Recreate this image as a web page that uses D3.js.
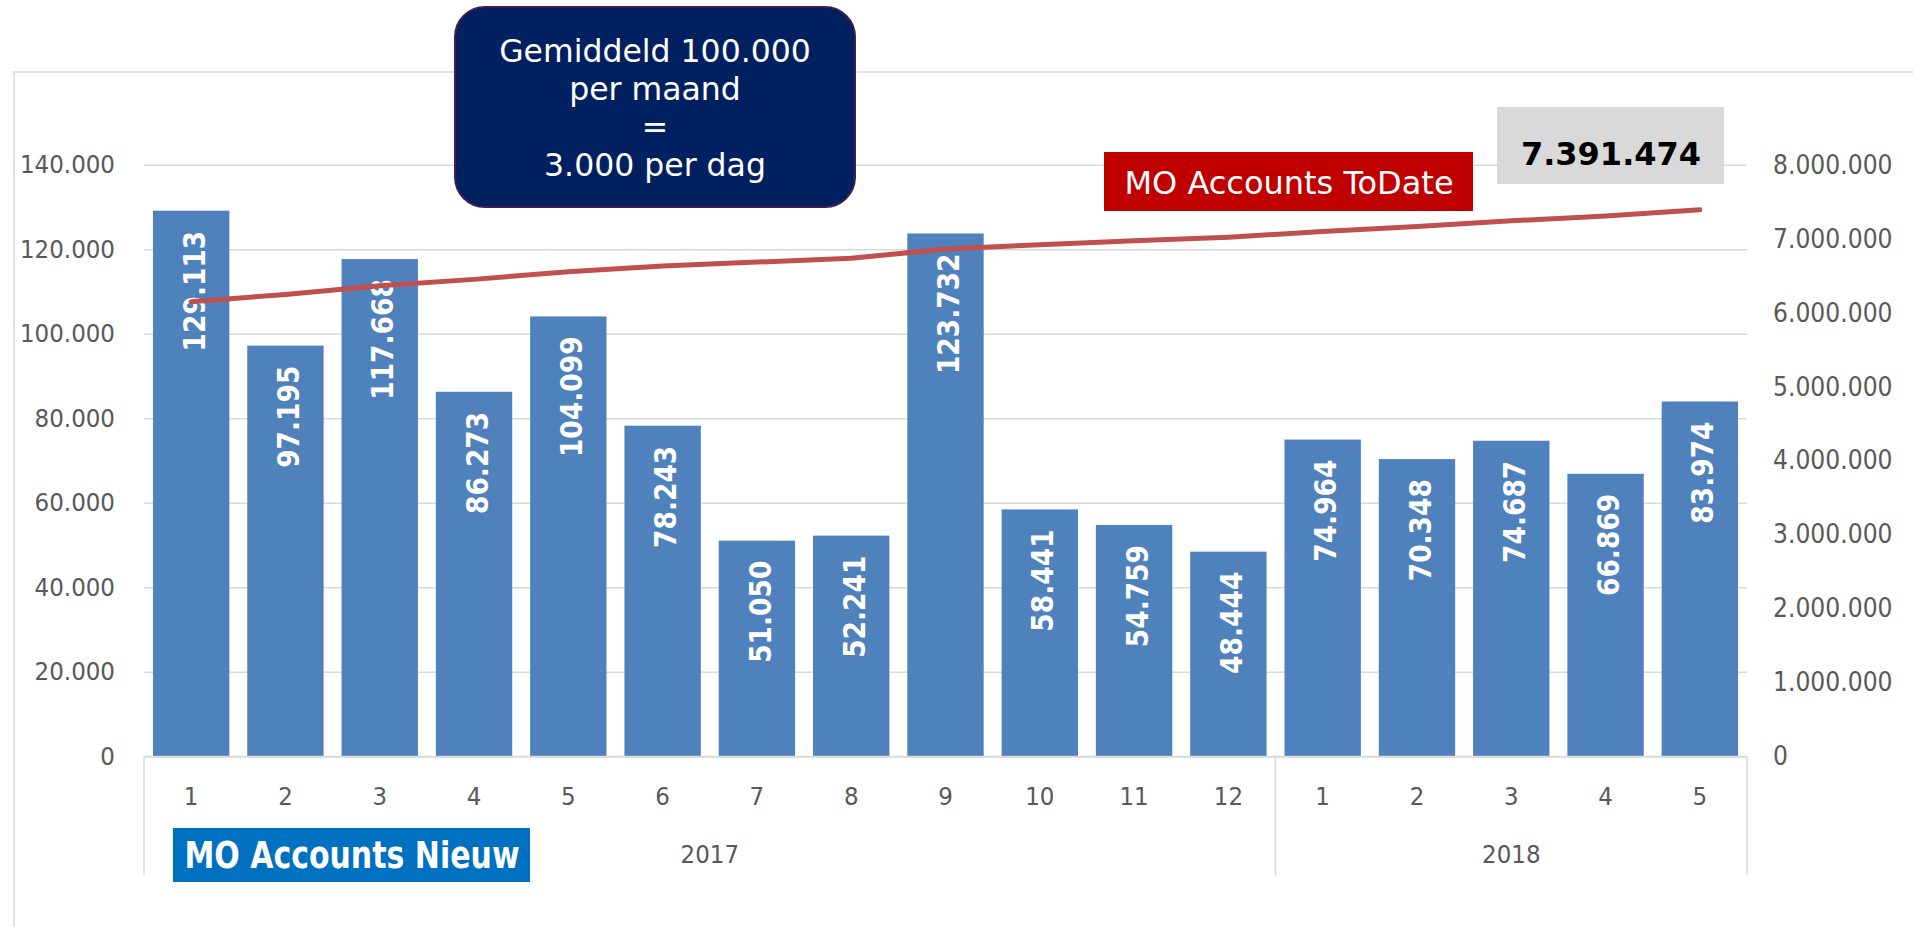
<!DOCTYPE html>
<html>
<head>
<meta charset="utf-8">
<script src="https://cdn.jsdelivr.net/npm/d3@7"></script>
<style>
  html, body { margin: 0; padding: 0; background: #fff; overflow: hidden; }
  svg { display: block; font-family: "DejaVu Sans", Verdana, sans-serif; }
</style>
</head>
<body>
<svg id="chart" width="1913" height="927"></svg>
<script>
// maanden per jaar
const months = ["1", "2", "3", "4", "5", "6", "7", "8", "9", "10", "11", "12", "1", "2", "3", "4", "5"];
const years = ["2017", "2018"];
const monthsPerYear = [12, 5];

// MO Accounts Nieuw (staven, linker as)
const newAccounts = [129113, 97195, 117668, 86273, 104099, 78243, 51050, 52241, 123732,
                     58441, 54759, 48444, 74964, 70348, 74687, 66869, 83974];

// MO Accounts ToDate (lijn, rechter as)
const accountsToDate = [6148487, 6245682, 6363350, 6449623, 6553722, 6631965, 6683015, 6735256,
                        6858988, 6917429, 6972188, 7020632, 7095596, 7165944, 7240631, 7307500, 7391474];

const leftTicks = [0, 20000, 40000, 60000, 80000, 100000, 120000, 140000];
const rightTicks = [0, 1000000, 2000000, 3000000, 4000000, 5000000, 6000000, 7000000, 8000000];

const noteLines = ["Gemiddeld 100.000", "per maand", "=", "3.000 per dag"];
const totalLabel = "7.391.474";
const lineLabel = "MO Accounts ToDate";
const barLabel = "MO Accounts Nieuw";

const W = 1913, H = 927;
const plotLeft = 144, plotRight = 1747, plotTop = 164.7, plotBottom = 756.4;
const grey = "#d9d9d9", txt = "#595959";

const nl = d3.formatLocale({decimal: ",", thousands: ".", grouping: [3], currency: ["€", ""]});
const fmt = nl.format(",d");

const svg = d3.select("#chart");

const x = d3.scaleBand()
    .domain(d3.range(newAccounts.length))
    .range([plotLeft, plotRight])
    .paddingInner(0.19)
    .paddingOuter(0.095);
const y = d3.scaleLinear([0, 140000], [plotBottom, plotTop]);
const y2 = d3.scaleLinear([0, 8000000], [plotBottom, plotTop]);
const cx = i => x(i) + x.bandwidth() / 2;

// kader van de grafiek
svg.append("path")
    .attr("d", `M14,${H}V72H${W}`)
    .attr("fill", "none")
    .attr("stroke", grey)
    .attr("stroke-width", 1.5);

// rasterlijnen
svg.append("g")
    .attr("transform", `translate(${plotLeft},0)`)
    .call(d3.axisLeft(y).tickValues(leftTicks).tickSize(-(plotRight - plotLeft)).tickFormat(""))
    .call(g => g.select(".domain").remove())
    .call(g => g.selectAll("line").attr("stroke", grey).attr("stroke-width", 1.5));

// linker as
svg.append("g")
    .attr("transform", `translate(${plotLeft},0)`)
    .call(d3.axisLeft(y).tickValues(leftTicks).tickSize(0).tickPadding(29).tickFormat(fmt))
    .call(g => g.select(".domain").remove())
    .call(g => g.selectAll("text")
        .attr("fill", txt)
        .style("font-size", "23px")
        .style("font-family", "DejaVu Sans")
        .attr("transform", "scale(1,1.1)"));

// rechter as
svg.append("g")
    .attr("transform", `translate(${plotRight},0)`)
    .call(d3.axisRight(y2).tickValues(rightTicks).tickSize(0).tickPadding(26).tickFormat(fmt))
    .call(g => g.select(".domain").remove())
    .call(g => g.selectAll("text")
        .attr("fill", txt)
        .style("font-size", "23.5px")
        .style("font-family", "DejaVu Sans")
        .attr("transform", "scale(1,1.12)"));

// staven
svg.append("g")
    .attr("fill", "#4f81bd")
    .selectAll("rect")
    .data(newAccounts)
    .join("rect")
    .attr("x", (d, i) => x(i))
    .attr("y", d => y(d))
    .attr("width", x.bandwidth())
    .attr("height", d => y(0) - y(d));

// labels in de staven
svg.append("g")
    .selectAll("text")
    .data(newAccounts)
    .join("text")
    .attr("transform", (d, i) => `translate(${cx(i) + 2},${y(d) + 20}) rotate(-90) scale(1,1.16)`)
    .attr("y", 10)
    .attr("text-anchor", "end")
    .attr("fill", "#fff")
    .style("font-size", "26.5px")
    .style("font-weight", "bold")
    .text(fmt);

// lijn
const line = d3.line()
    .x((d, i) => cx(i))
    .y(d => y2(d));

svg.append("path")
    .datum(accountsToDate)
    .attr("d", line)
    .attr("fill", "none")
    .attr("stroke", "#c0504d")
    .attr("stroke-width", 5)
    .attr("stroke-linejoin", "round")
    .attr("stroke-linecap", "round");

// categorie-as
const axisG = svg.append("g");
axisG.append("line")
    .attr("x1", plotLeft).attr("x2", plotRight)
    .attr("y1", plotBottom).attr("y2", plotBottom)
    .attr("stroke", grey).attr("stroke-width", 1.5);

let start = 0;
const dividers = [plotLeft];
const yearCenters = [];
monthsPerYear.forEach(n => {
    const a = x(start), b = x(start + n - 1) + x.bandwidth();
    yearCenters.push((a + b) / 2);
    start += n;
    dividers.push(start < months.length ? (b + x(start)) / 2 : plotRight);
});

axisG.selectAll(".div")
    .data(dividers)
    .join("line")
    .attr("class", "div")
    .attr("x1", d => d).attr("x2", d => d)
    .attr("y1", plotBottom).attr("y2", 875)
    .attr("stroke", grey).attr("stroke-width", 1.5);

axisG.selectAll(".month")
    .data(months)
    .join("text")
    .attr("class", "month")
    .attr("transform", (d, i) => `translate(${cx(i)},805) scale(1,1.1)`)
    .attr("text-anchor", "middle")
    .attr("fill", txt)
    .style("font-size", "23px")
    .text(d => d);

axisG.selectAll(".year")
    .data(years)
    .join("text")
    .attr("class", "year")
    .attr("transform", (d, i) => `translate(${yearCenters[i]},863) scale(1,1.1)`)
    .attr("text-anchor", "middle")
    .attr("fill", txt)
    .style("font-size", "23px")
    .text(d => d);

// notitie bovenaan
const note = svg.append("g");
note.append("rect")
    .attr("x", 455).attr("y", 7)
    .attr("width", 400).attr("height", 200)
    .attr("rx", 30)
    .attr("fill", "#002060")
    .attr("stroke", "#3b1f4f")
    .attr("stroke-width", 2);
note.selectAll("text")
    .data(noteLines)
    .join("text")
    .attr("x", 655)
    .attr("y", (d, i) => 62 + i * 38)
    .attr("text-anchor", "middle")
    .attr("fill", "#fff")
    .style("font-size", "31.5px")
    .text(d => d);

// label lijn
const lbl = svg.append("g");
lbl.append("rect")
    .attr("x", 1104).attr("y", 152)
    .attr("width", 369).attr("height", 59)
    .attr("fill", "#c00000");
lbl.append("text")
    .attr("x", 1289).attr("y", 194)
    .attr("text-anchor", "middle")
    .attr("fill", "#fff")
    .style("font-size", "32px")
    .text(lineLabel);

// totaal
const tot = svg.append("g");
tot.append("rect")
    .attr("x", 1497).attr("y", 107)
    .attr("width", 227).attr("height", 77)
    .attr("fill", "#d9d9d9");
tot.append("text")
    .attr("x", 1611).attr("y", 165)
    .attr("text-anchor", "middle")
    .attr("fill", "#000")
    .style("font-size", "32px")
    .style("font-weight", "bold")
    .text(totalLabel);

// label staven
const bl = svg.append("g");
bl.append("rect")
    .attr("x", 173).attr("y", 828)
    .attr("width", 357).attr("height", 54)
    .attr("fill", "#0070c0");
bl.append("text")
    .attr("transform", "translate(352,868) scale(1,1.25)")
    .attr("text-anchor", "middle")
    .attr("fill", "#fff")
    .style("font-size", "30px")
    .style("font-weight", "bold")
    .text(barLabel);
</script>
</body>
</html>
